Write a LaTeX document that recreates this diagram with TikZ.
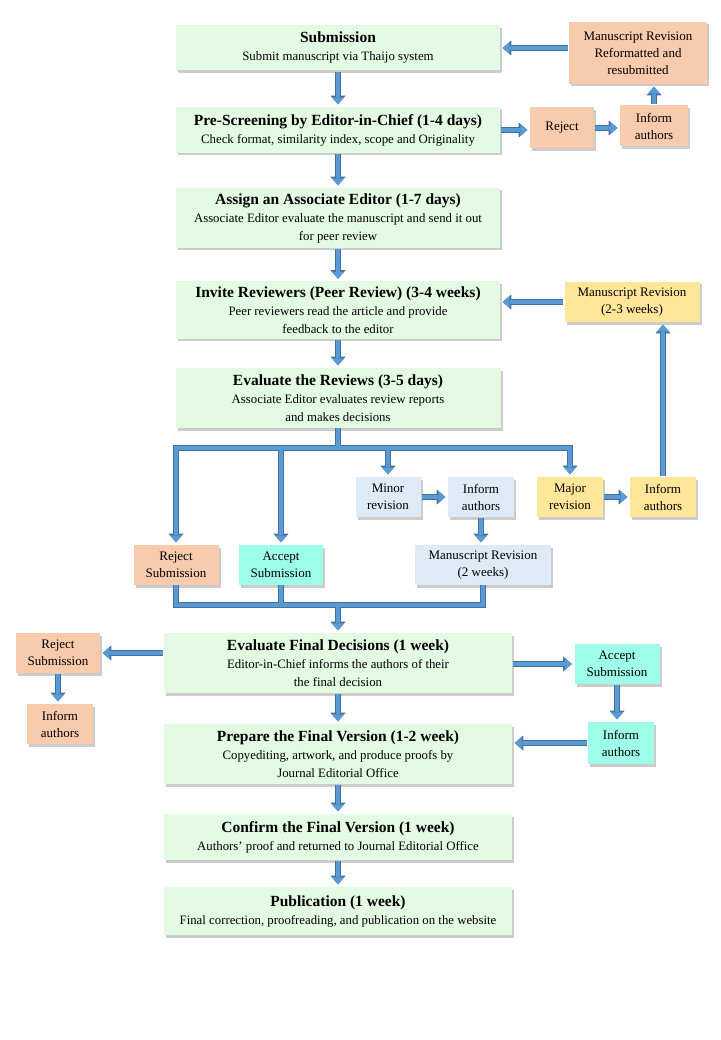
\documentclass[tikz,border=0pt]{standalone}
\usepackage{fontspec}
\setmainfont{Liberation Serif}
\usetikzlibrary{arrows.meta, positioning, shadows}
\definecolor{boxgreen}{HTML}{E3FAE3}
\definecolor{boxorange}{HTML}{F8CBAD}
\definecolor{boxcyan}{HTML}{9EFDE8}
\definecolor{boxblue}{HTML}{DEEBF7}
\definecolor{boxyellow}{HTML}{FFE699}
\definecolor{arrowfill}{HTML}{5B9BD5}
\definecolor{arrowline}{HTML}{41719C}
\newcommand{\boxtitle}[1]{{\fontsize{15.5}{18}\selectfont\bfseries #1}}

\begin{document}
\begin{tikzpicture}[x=1pt, y=-1pt,
    mainbox/.style={fill=boxgreen, align=center, inner sep=2pt,
      font=\fontsize{12.8}{18}\selectfont,
      drop shadow={shadow xshift=2pt, shadow yshift=-2.5pt, fill=black!50, opacity=0.4}},
    sidebox/.style={align=center, inner sep=2pt, minimum width=66pt, minimum height=40pt,
      font=\fontsize{13}{17}\selectfont,
      drop shadow={shadow xshift=2pt, shadow yshift=-2.5pt, fill=black!50, opacity=0.4}},
    flow/.style={draw=arrowfill, line width=4.8pt, shorten <=1pt, shorten >=2.5pt,
      -{Triangle[width=12.5pt, length=7pt, line width=0pt]},
      preaction={draw=arrowline, line width=6.4pt,
        -{Triangle[width=15pt, length=8.6pt, line width=0pt]}}},
    pipe/.style={draw=arrowfill, line width=4.8pt, line join=miter,
      preaction={draw=arrowline, line width=6.4pt, line join=miter}}]
  \useasboundingbox (0,0) rectangle (720,1040);

  % 主流程
  \node[mainbox, minimum width=324pt, minimum height=45pt] (Submission) at (338,48)
    {\boxtitle{Submission}\\Submit manuscript via Thaijo system};
  \node[mainbox, minimum width=324pt, minimum height=46pt] (PreScreen) at (338,130)
    {\boxtitle{Pre-Screening by Editor-in-Chief (1-4 days)}\\Check format, similarity index, scope and Originality};
  \node[mainbox, minimum width=324pt, minimum height=60pt] (Assign) at (338,218)
    {\boxtitle{Assign an Associate Editor (1-7 days)}\\Associate Editor evaluate the manuscript and send it out\\for peer review};
  \node[mainbox, minimum width=324pt, minimum height=57pt] (Invite) at (338,310)
    {\boxtitle{Invite Reviewers (Peer Review) (3-4 weeks)}\\Peer reviewers read the article and provide\\feedback to the editor};
  \node[mainbox, minimum width=325pt, minimum height=60pt] (Evaluate) at (338,398)
    {\boxtitle{Evaluate the Reviews (3-5 days)}\\Associate Editor evaluates review reports\\and makes decisions};
  \node[mainbox, minimum width=348pt, minimum height=60pt] (EvalFinal) at (338,663)
    {\boxtitle{Evaluate Final Decisions (1 week)}\\Editor-in-Chief informs the authors of their\\the final decision};
  \node[mainbox, minimum width=348pt, minimum height=60pt] (Prepare) at (338,754)
    {\boxtitle{Prepare the Final Version (1-2 week)}\\Copyediting, artwork, and produce proofs by\\Journal Editorial Office};
  \node[mainbox, minimum width=348pt, minimum height=46pt] (Confirm) at (338,837)
    {\boxtitle{Confirm the Final Version (1 week)}\\Authors’ proof and returned to Journal Editorial Office};
  \node[mainbox, minimum width=348pt, minimum height=48pt] (Publication) at (338,911)
    {\boxtitle{Publication (1 week)}\\Final correction, proofreading, and publication on the website};

  % 旁支
  \node[sidebox, fill=boxorange, minimum width=138pt, minimum height=62pt] (ManRevA) at (638,53)
    {Manuscript Revision\\Reformatted and\\resubmitted};
  \node[sidebox, fill=boxorange, minimum width=64pt, minimum height=41pt] (RejectA) at (562,128) {Reject};
  \node[sidebox, fill=boxorange, minimum width=68pt, minimum height=41pt] (InformA) at (654,126) {Inform\\authors};
  \node[sidebox, fill=boxyellow, minimum width=135pt] (ManRevB) at (632,302) {Manuscript Revision\\(2-3 weeks)};
  \node[sidebox, fill=boxorange, minimum width=85pt] (RejectSub) at (176,565) {Reject\\Submission};
  \node[sidebox, fill=boxcyan, minimum width=84pt] (AcceptSub) at (281,565) {Accept\\Submission};
  \node[sidebox, fill=boxblue, minimum width=65pt] (Minor) at (388,497) {Minor\\revision};
  \node[sidebox, fill=boxblue] (InformMinor) at (481,497) {Inform\\authors};
  \node[sidebox, fill=boxblue, minimum width=136pt] (ManRevC) at (483,565) {Manuscript Revision\\(2 weeks)};
  \node[sidebox, fill=boxyellow] (Major) at (570,497) {Major\\revision};
  \node[sidebox, fill=boxyellow] (InformMajor) at (663,497) {Inform\\authors};
  \node[sidebox, fill=boxorange, minimum width=84pt] (RejectFinal) at (58,653) {Reject\\Submission};
  \node[sidebox, fill=boxorange] (InformRej) at (60,724) {Inform\\authors};
  \node[sidebox, fill=boxcyan, minimum width=85pt] (AcceptFinal) at (617,664) {Accept\\Submission};
  \node[sidebox, fill=boxcyan, minimum height=42pt] (InformAcc) at (621,743) {Inform\\authors};

  % 主流程箭头
  \foreach \a/\b in {Submission/PreScreen, PreScreen/Assign, Assign/Invite, Invite/Evaluate,
      EvalFinal/Prepare, Prepare/Confirm, Confirm/Publication} {
    \draw[flow] (\a) -- (\b);
  }

  % 初审退回
  \draw[flow] (PreScreen.east) -- (RejectA.west |- PreScreen.east);
  \draw[flow] (RejectA.east) -- (InformA.west |- RejectA.east);
  \draw[flow] (InformA.north) -- (InformA.north |- ManRevA.south);
  \draw[flow] (ManRevA.west |- Submission) -- (Submission);

  % 审稿决定分支
  \coordinate (barL) at (176,448);
  \coordinate (barR) at (570,448);
  \draw[pipe] (Evaluate.south) -- (Evaluate.south |- barL)
    ([yshift=-6pt]barL) -- (barL) -- (barR) -- ([yshift=-6pt]barR);
  \draw[flow, shorten <=0pt] ([yshift=-6pt]barL) -- (barL |- RejectSub.north);
  \draw[flow, shorten <=0pt] ([yshift=-6pt]barR) -- (barR |- Major.north);
  \draw[flow, shorten <=2.4pt] (AcceptSub.north |- barL) -- (AcceptSub.north);
  \draw[flow, shorten <=2.4pt] (Minor.north |- barL) -- (Minor.north);
  \draw[flow] (Minor) -- (InformMinor);
  \draw[flow] (InformMinor.south) -- (InformMinor.south |- ManRevC.north);
  \draw[flow] (Major) -- (InformMajor);
  \draw[flow] (InformMajor.north) -- (InformMajor.north |- ManRevB.south);
  \draw[flow] (ManRevB.west) -- (Invite.east |- ManRevB.west);

  % 汇合
  \coordinate (mergeL) at (176,605);
  \draw[pipe] (RejectSub.south) -- (RejectSub.south |- mergeL) -- (ManRevC.south |- mergeL) -- (ManRevC.south)
    (AcceptSub.south) -- (AcceptSub.south |- mergeL);
  \draw[flow, shorten <=2.4pt] (EvalFinal.north |- mergeL) -- (EvalFinal.north);

  % 终审
  \draw[flow] (EvalFinal.west |- RejectFinal) -- (RejectFinal);
  \draw[flow] (RejectFinal.south) -- (RejectFinal.south |- InformRej.north);
  \draw[flow] (EvalFinal.east |- AcceptFinal) -- (AcceptFinal);
  \draw[flow] (AcceptFinal.south) -- (AcceptFinal.south |- InformAcc.north);
  \draw[flow] (InformAcc) -- (Prepare.east |- InformAcc);
\end{tikzpicture}
\end{document}
